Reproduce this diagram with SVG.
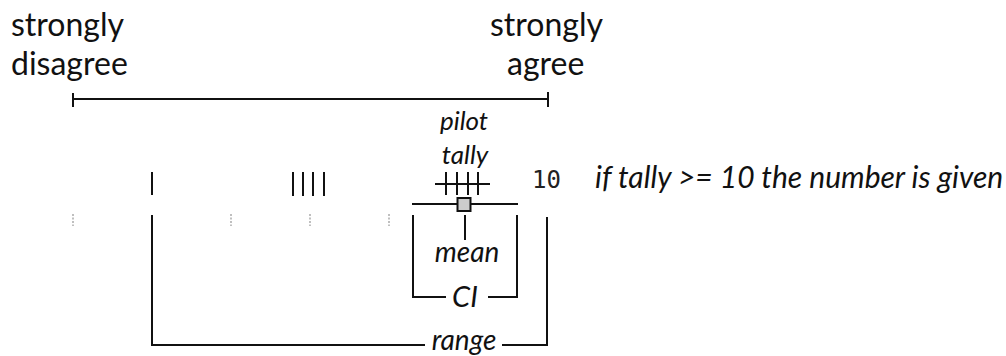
<svg xmlns="http://www.w3.org/2000/svg" width="1006" height="356" viewBox="0 0 1006 356">
  <style>
    .label { font-family: Lato, "Liberation Sans", sans-serif; font-size: 32px; fill: #111; }
    .note { font-family: Lato, "Liberation Sans", sans-serif; font-style: italic; fill: #111; }
    .mono { font-family: "DejaVu Sans Mono", "Liberation Mono", monospace; font-size: 24px; fill: #222; }
    .ln { stroke: #111; stroke-width: 2; fill: none; }
    .tick { stroke: #111; stroke-width: 2; }
    .faint { stroke: #aaa; stroke-width: 1.5; stroke-dasharray: 2 1.5; }
  </style>
  <rect width="1006" height="356" fill="#fff"/>

  <!-- scale end labels -->
  <g id="label-disagree">
    <text class="label" x="11" y="36">strongly</text>
    <text class="label" x="11" y="75">disagree</text>
  </g>
  <g id="label-agree">
    <text class="label" x="490" y="36">strongly</text>
    <text class="label" x="507" y="75">agree</text>
  </g>

  <!-- response scale -->
  <g id="scale">
    <line class="ln" x1="73" y1="99" x2="548" y2="99" stroke-width="2.4"/>
    <line class="tick" x1="73" y1="93" x2="73" y2="107"/>
    <line class="tick" x1="548" y1="92" x2="548" y2="107"/>
  </g>

  <!-- faint category positions -->
  <g id="positions">
    <line class="faint" x1="73" y1="214" x2="73" y2="226"/>
    <line class="faint" x1="231" y1="214" x2="231" y2="226"/>
    <line class="faint" x1="310" y1="214" x2="310" y2="226"/>
    <line class="faint" x1="389" y1="214" x2="389" y2="226"/>
  </g>

  <!-- tallies -->
  <g id="tally-1">
    <line class="tick" x1="152" y1="172" x2="152" y2="195"/>
  </g>
  <g id="tally-4">
    <line class="tick" x1="293" y1="172" x2="293" y2="196"/>
    <line class="tick" x1="303" y1="172" x2="303" y2="196"/>
    <line class="tick" x1="313" y1="172" x2="313" y2="196"/>
    <line class="tick" x1="324" y1="172" x2="324" y2="196"/>
  </g>
  <g id="pilot-tally">
    <text class="note" x="464" y="130" font-size="26" text-anchor="middle">pilot</text>
    <text class="note" x="465" y="164" font-size="26" text-anchor="middle">tally</text>
    <line class="ln" x1="435" y1="184" x2="490" y2="184"/>
    <line class="tick" x1="446" y1="172" x2="446" y2="195"/>
    <line class="tick" x1="457" y1="172" x2="457" y2="195"/>
    <line class="tick" x1="468" y1="172" x2="468" y2="195"/>
    <line class="tick" x1="478" y1="172" x2="478" y2="195"/>
  </g>
  <g id="tally-count">
    <text class="mono" x="532" y="188">10</text>
    <text class="note" x="595" y="188" font-size="30">if tally &gt;= 10 the number is given</text>
  </g>

  <!-- mean with confidence interval -->
  <g id="mean">
    <line class="ln" x1="412" y1="204" x2="518" y2="204"/>
    <rect x="457.5" y="198" width="13" height="13" fill="#ccc" stroke="#111" stroke-width="2"/>
    <line class="tick" x1="465" y1="215" x2="465" y2="240"/>
    <text class="note" x="467" y="262" font-size="28" text-anchor="middle">mean</text>
  </g>

  <!-- brackets -->
  <g id="connectors">
    <path class="ln" d="M413 215 V297 H446 M488 297 H517 V215"/>
    <path class="ln" d="M152 215 V345 H425 M502 345 H547 V217"/>
  </g>
  <g id="ci-label">
    <text class="note" x="465" y="307" font-size="29" text-anchor="middle">CI</text>
  </g>
  <g id="range-label">
    <text class="note" x="464" y="350" font-size="28" text-anchor="middle">range</text>
  </g>
</svg>
